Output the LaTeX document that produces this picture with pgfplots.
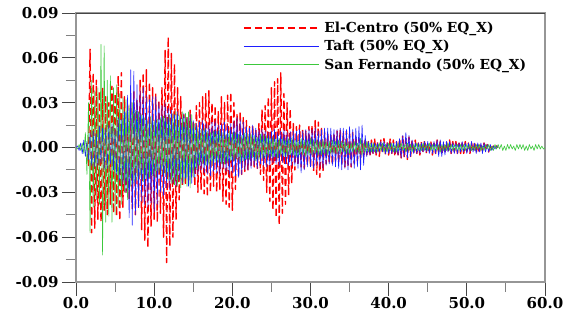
\documentclass[border=0pt]{standalone}
\usepackage{pgfplots}
\pgfplotsset{compat=1.18}
\usepackage{pgfplotstable}
\usepackage{fontspec}
\setmainfont{DejaVu Serif}
\definecolor{ecred}{RGB}{255,0,0}
\definecolor{taftblue}{RGB}{30,30,255}
\definecolor{sfgreen}{RGB}{60,200,60}
\definecolor{axgray}{RGB}{150,150,150}
\definecolor{tickdark}{RGB}{70,70,70}

% El-Centro, t = 1.4 s ... 54.0 s, dt = 0.2 s
\pgfplotstableread[row sep=\\]{y\\
0.003\\ -0.012\\ 0.066\\ -0.057\\ 0.050\\ -0.054\\ 0.045\\ -0.048\\ 0.038\\ -0.050\\
0.040\\ -0.042\\ 0.034\\ -0.045\\ 0.030\\ -0.038\\ 0.041\\ -0.044\\ 0.036\\ -0.046\\
0.048\\ -0.049\\ 0.050\\ -0.040\\ 0.034\\ -0.030\\ 0.028\\ -0.035\\ 0.030\\ -0.041\\
0.038\\ -0.045\\ 0.032\\ -0.040\\ 0.045\\ -0.055\\ 0.050\\ -0.062\\ 0.052\\ -0.067\\
0.044\\ -0.053\\ 0.040\\ -0.048\\ 0.036\\ -0.050\\ 0.032\\ -0.044\\ 0.040\\ -0.060\\
0.065\\ -0.077\\ 0.074\\ -0.066\\ 0.063\\ -0.060\\ 0.056\\ -0.048\\ 0.040\\ -0.035\\
0.034\\ -0.026\\ 0.022\\ -0.024\\ 0.020\\ -0.022\\ 0.025\\ -0.020\\ 0.018\\ -0.026\\
0.028\\ -0.030\\ 0.030\\ -0.028\\ 0.034\\ -0.031\\ 0.036\\ -0.033\\ 0.038\\ -0.030\\
0.030\\ -0.026\\ 0.028\\ -0.030\\ 0.024\\ -0.028\\ 0.034\\ -0.036\\ 0.030\\ -0.038\\
0.035\\ -0.040\\ 0.037\\ -0.042\\ 0.030\\ -0.028\\ 0.022\\ -0.020\\ 0.024\\ -0.018\\
0.020\\ -0.016\\ 0.018\\ -0.015\\ 0.014\\ -0.012\\ 0.015\\ -0.013\\ 0.012\\ -0.014\\
0.016\\ -0.018\\ 0.025\\ -0.022\\ 0.028\\ -0.030\\ 0.034\\ -0.036\\ 0.040\\ -0.042\\
0.044\\ -0.047\\ 0.046\\ -0.052\\ 0.050\\ -0.044\\ 0.036\\ -0.038\\ 0.030\\ -0.032\\
0.026\\ -0.024\\ 0.016\\ -0.015\\ 0.014\\ -0.012\\ 0.015\\ -0.013\\ 0.012\\ -0.014\\
0.011\\ -0.012\\ 0.014\\ -0.013\\ 0.015\\ -0.016\\ 0.018\\ -0.018\\ 0.017\\ -0.020\\
0.014\\ -0.016\\ 0.010\\ -0.011\\ 0.009\\ -0.010\\ 0.008\\ -0.012\\ 0.010\\ -0.009\\
0.011\\ -0.010\\ 0.012\\ -0.011\\ 0.010\\ -0.013\\ 0.011\\ -0.012\\ 0.009\\ -0.013\\
0.010\\ -0.011\\ 0.008\\ -0.009\\ 0.006\\ -0.007\\ 0.005\\ -0.006\\ 0.006\\ -0.005\\
0.004\\ -0.006\\ 0.005\\ -0.004\\ 0.006\\ -0.005\\ 0.004\\ -0.006\\ 0.005\\ -0.004\\
0.006\\ -0.005\\ 0.004\\ -0.005\\ 0.006\\ -0.004\\ 0.005\\ -0.006\\ 0.004\\ -0.005\\
0.006\\ -0.007\\ 0.008\\ -0.007\\ 0.006\\ -0.008\\ 0.007\\ -0.006\\ 0.005\\ -0.004\\
0.005\\ -0.004\\ 0.003\\ -0.005\\ 0.004\\ -0.003\\ 0.005\\ -0.004\\ 0.003\\ -0.004\\
0.004\\ -0.005\\ 0.003\\ -0.004\\ 0.005\\ -0.003\\ 0.004\\ -0.005\\ 0.003\\ -0.004\\
0.004\\ -0.003\\ 0.005\\ -0.004\\ 0.004\\ -0.003\\ 0.004\\ -0.004\\ 0.003\\ -0.004\\
0.003\\ -0.004\\ 0.004\\ -0.003\\ 0.003\\ -0.004\\ 0.003\\ -0.003\\ 0.004\\ -0.004\\
0.003\\ -0.004\\ 0.003\\ -0.002\\ 0.003\\ -0.002\\ 0.002\\ -0.003\\ 0.002\\ -0.001\\
0.001\\ -0.001\\ 0.001\\ 0.000\\
}\elcentro

% Taft, t = 0 ... 54.0 s, dt = 0.2 s
\pgfplotstableread[row sep=\\]{y\\
0.000\\ 0.001\\ -0.002\\ 0.003\\ -0.004\\ 0.005\\ -0.006\\ 0.004\\ -0.008\\ 0.010\\
-0.012\\ 0.011\\ -0.013\\ 0.009\\ -0.012\\ 0.014\\ -0.010\\ 0.013\\ -0.015\\ 0.012\\
-0.014\\ 0.015\\ -0.011\\ 0.016\\ -0.015\\ 0.013\\ -0.018\\ 0.020\\ -0.022\\ 0.019\\
-0.025\\ 0.024\\ -0.030\\ 0.035\\ -0.047\\ 0.052\\ -0.052\\ 0.051\\ -0.045\\ 0.042\\
-0.040\\ 0.038\\ -0.036\\ 0.040\\ -0.038\\ 0.035\\ -0.040\\ 0.032\\ -0.037\\ 0.034\\
-0.043\\ 0.034\\ -0.038\\ 0.030\\ -0.030\\ 0.028\\ -0.032\\ 0.030\\ -0.027\\ 0.026\\
-0.028\\ 0.025\\ -0.024\\ 0.022\\ -0.026\\ 0.024\\ -0.022\\ 0.020\\ -0.024\\ 0.023\\
-0.021\\ 0.020\\ -0.026\\ 0.022\\ -0.024\\ 0.018\\ -0.020\\ 0.016\\ -0.018\\ 0.017\\
-0.015\\ 0.018\\ -0.017\\ 0.016\\ -0.018\\ 0.015\\ -0.019\\ 0.017\\ -0.016\\ 0.018\\
-0.017\\ 0.015\\ -0.018\\ 0.016\\ -0.014\\ 0.017\\ -0.016\\ 0.015\\ -0.018\\ 0.016\\
-0.017\\ 0.018\\ -0.019\\ 0.020\\ -0.020\\ 0.019\\ -0.018\\ 0.017\\ -0.015\\ 0.014\\
-0.015\\ 0.013\\ -0.014\\ 0.015\\ -0.012\\ 0.013\\ -0.014\\ 0.012\\ -0.011\\ 0.012\\
-0.012\\ 0.011\\ -0.013\\ 0.010\\ -0.012\\ 0.011\\ -0.010\\ 0.012\\ -0.011\\ 0.010\\
-0.012\\ 0.011\\ -0.010\\ 0.012\\ -0.011\\ 0.010\\ -0.012\\ 0.011\\ -0.012\\ 0.011\\
-0.012\\ 0.011\\ -0.014\\ 0.012\\ -0.017\\ 0.011\\ -0.015\\ 0.012\\ -0.013\\ 0.012\\
-0.013\\ 0.012\\ -0.014\\ 0.013\\ -0.012\\ 0.011\\ -0.013\\ 0.012\\ -0.014\\ 0.013\\
-0.012\\ 0.013\\ -0.011\\ 0.013\\ -0.012\\ 0.012\\ -0.013\\ 0.012\\ -0.014\\ 0.013\\
-0.015\\ 0.013\\ -0.014\\ 0.012\\ -0.015\\ 0.014\\ -0.013\\ 0.012\\ -0.014\\ 0.013\\
-0.013\\ 0.014\\ -0.015\\ 0.015\\ -0.012\\ 0.008\\ -0.006\\ 0.004\\ -0.005\\ 0.003\\
-0.004\\ 0.003\\ -0.004\\ 0.003\\ -0.003\\ 0.004\\ -0.003\\ 0.004\\ -0.004\\ 0.003\\
-0.004\\ 0.003\\ -0.004\\ 0.003\\ -0.004\\ 0.004\\ -0.005\\ 0.006\\ -0.007\\ 0.008\\
-0.006\\ 0.010\\ -0.007\\ 0.008\\ -0.006\\ 0.005\\ -0.004\\ 0.003\\ -0.004\\ 0.003\\
-0.004\\ 0.003\\ -0.003\\ 0.004\\ -0.003\\ 0.004\\ -0.004\\ 0.003\\ -0.004\\ 0.004\\
-0.004\\ 0.005\\ -0.006\\ 0.005\\ -0.006\\ 0.004\\ -0.005\\ 0.004\\ -0.003\\ 0.004\\
-0.004\\ 0.003\\ -0.004\\ 0.003\\ -0.004\\ 0.003\\ -0.003\\ 0.004\\ -0.003\\ 0.003\\
-0.004\\ 0.003\\ -0.003\\ 0.004\\ -0.003\\ 0.003\\ -0.004\\ 0.003\\ -0.003\\ 0.003\\
-0.004\\ 0.003\\ -0.003\\ 0.002\\ -0.003\\ 0.002\\ -0.002\\ 0.001\\ -0.001\\ 0.001\\
0.000\\
}\taft

% San Fernando, t = 0 ... 60.0 s, dt = 0.2 s
\pgfplotstableread[row sep=\\]{y\\
0.000\\ -0.001\\ 0.002\\ -0.002\\ 0.003\\ -0.004\\ 0.010\\ -0.018\\ 0.030\\ -0.057\\
0.045\\ -0.040\\ 0.038\\ -0.035\\ 0.040\\ -0.038\\ 0.069\\ -0.072\\ 0.068\\ -0.050\\
0.045\\ -0.046\\ 0.048\\ -0.050\\ 0.040\\ -0.045\\ 0.042\\ -0.040\\ 0.036\\ -0.038\\
0.034\\ -0.030\\ 0.032\\ -0.035\\ 0.028\\ -0.026\\ 0.030\\ -0.024\\ 0.025\\ -0.022\\
0.024\\ -0.020\\ 0.022\\ -0.023\\ 0.020\\ -0.021\\ 0.018\\ -0.020\\ 0.021\\ -0.019\\
0.018\\ -0.020\\ 0.019\\ -0.017\\ 0.020\\ -0.018\\ 0.021\\ -0.019\\ 0.020\\ -0.022\\
0.022\\ -0.024\\ 0.023\\ -0.025\\ 0.024\\ -0.026\\ 0.022\\ -0.027\\ 0.024\\ -0.025\\
0.023\\ -0.026\\ 0.024\\ -0.027\\ 0.022\\ -0.020\\ 0.016\\ -0.015\\ 0.013\\ -0.012\\
0.012\\ -0.011\\ 0.013\\ -0.012\\ 0.011\\ -0.012\\ 0.010\\ -0.012\\ 0.011\\ -0.010\\
0.011\\ -0.010\\ 0.012\\ -0.011\\ 0.010\\ -0.011\\ 0.009\\ -0.010\\ 0.011\\ -0.009\\
0.010\\ -0.009\\ 0.010\\ -0.008\\ 0.009\\ -0.010\\ 0.008\\ -0.009\\ 0.010\\ -0.008\\
0.009\\ -0.008\\ 0.009\\ -0.007\\ 0.008\\ -0.009\\ 0.007\\ -0.008\\ 0.009\\ -0.007\\
0.008\\ -0.007\\ 0.008\\ -0.006\\ 0.007\\ -0.006\\ 0.007\\ -0.006\\ 0.006\\ -0.007\\
0.006\\ -0.005\\ 0.006\\ -0.006\\ 0.005\\ -0.006\\ 0.006\\ -0.005\\ 0.006\\ -0.005\\
0.005\\ -0.006\\ 0.005\\ -0.005\\ 0.006\\ -0.005\\ 0.005\\ -0.006\\ 0.005\\ -0.005\\
0.006\\ -0.005\\ 0.005\\ -0.004\\ 0.005\\ -0.005\\ 0.004\\ -0.005\\ 0.005\\ -0.004\\
0.004\\ -0.005\\ 0.004\\ -0.004\\ 0.005\\ -0.004\\ 0.004\\ -0.004\\ 0.005\\ -0.004\\
0.004\\ -0.003\\ 0.004\\ -0.004\\ 0.003\\ -0.004\\ 0.003\\ -0.003\\ 0.004\\ -0.003\\
0.003\\ -0.004\\ 0.006\\ -0.005\\ 0.003\\ -0.003\\ 0.004\\ -0.003\\ 0.003\\ -0.003\\
0.003\\ -0.003\\ 0.002\\ -0.003\\ 0.003\\ -0.002\\ 0.003\\ -0.003\\ 0.002\\ -0.003\\
0.003\\ -0.002\\ 0.003\\ -0.003\\ 0.002\\ -0.003\\ 0.003\\ -0.002\\ 0.003\\ -0.002\\
0.002\\ -0.003\\ 0.003\\ -0.002\\ 0.002\\ -0.003\\ 0.002\\ -0.002\\ 0.003\\ -0.002\\
0.002\\ -0.002\\ 0.003\\ -0.002\\ 0.002\\ -0.002\\ 0.003\\ -0.002\\ 0.002\\ -0.002\\
0.002\\ -0.002\\ 0.002\\ -0.003\\ 0.002\\ -0.002\\ 0.002\\ -0.002\\ 0.003\\ -0.002\\
0.002\\ -0.002\\ 0.002\\ -0.002\\ 0.002\\ -0.002\\ 0.002\\ -0.002\\ 0.002\\ -0.002\\
0.002\\ -0.001\\ 0.002\\ -0.002\\ 0.001\\ -0.002\\ 0.002\\ -0.001\\ 0.002\\ -0.002\\
0.001\\ -0.002\\ 0.002\\ -0.001\\ 0.002\\ -0.002\\ 0.001\\ -0.002\\ 0.002\\ -0.001\\
0.002\\ -0.001\\ 0.002\\ -0.002\\ 0.001\\ -0.002\\ 0.002\\ -0.001\\ 0.002\\ -0.001\\
0.001\\ -0.002\\ 0.002\\ -0.001\\ 0.002\\ -0.001\\ 0.002\\ -0.002\\ 0.001\\ -0.002\\
0.002\\ -0.001\\ 0.001\\ -0.002\\ 0.002\\ -0.001\\ 0.002\\ -0.001\\ 0.001\\ -0.001\\
0.000\\
}\sanfernando

\begin{document}
\begin{tikzpicture}
\path[use as bounding box] (-76pt,-39pt) rectangle (490pt,282pt);
\begin{axis}[
  at={(0pt,0pt)}, anchor=south west,
  scale only axis, width=469pt, height=269pt,
  xmin=0, xmax=60, ymin=-0.09, ymax=0.09,
  scaled y ticks=false, scaled x ticks=false,
  xtick={0,10,20,30,40,50,60},
  xticklabels={0.0,10.0,20.0,30.0,40.0,50.0,60.0},
  ytick={-0.09,-0.06,-0.03,0,0.03,0.06,0.09},
  yticklabels={-0.09,-0.06,-0.03,0.00,0.03,0.06,0.09},
  minor xtick={5,15,25,35,45,55},
  minor ytick={-0.075,-0.045,-0.015,0.015,0.045,0.075},
  tick align=outside, tick pos=left,
  major tick length=14pt, minor tick length=10pt,
  major tick style={tickdark, line width=0.9pt},
  minor tick style={gray, line width=0.9pt},
  axis line style={axgray, line width=1.6pt},
  ticklabel style={font=\bfseries\fontsize{15}{15}\selectfont, text=black},
  xticklabel style={yshift=2pt},
  legend style={draw=none, fill=none, at={(rel axis cs:0.356,0.975)}, anchor=north west,
    font=\bfseries\fontsize{13.8}{13.8}\selectfont, row sep=2.4pt, inner sep=0pt,
    cells={anchor=west}, /tikz/every even column/.append style={column sep=0pt}},
  legend cell align=left,
  legend image code/.code={\draw[#1] (0pt,0pt) -- (75pt,0pt) (78pt,0pt);},
  clip=true,
]
\addlegendimage{color=ecred, line width=1.2pt, dash pattern=on 7pt off 4pt}
\addlegendentry{El-Centro (50\% EQ\_X)}
\addlegendimage{color=taftblue, line width=0.8pt}
\addlegendentry{Taft (50\% EQ\_X)}
\addlegendimage{color=sfgreen, line width=0.8pt}
\addlegendentry{San Fernando (50\% EQ\_X)}
\addplot[forget plot, color=ecred, line width=1.4pt, dash pattern=on 7pt off 4pt, line join=round]
  table[x expr=\coordindex*0.2+1.4, y=y] {\elcentro};
\addplot[forget plot, color=taftblue, line width=0.6pt, line join=round]
  table[x expr=\coordindex*0.2, y=y] {\taft};
\addplot[forget plot, color=sfgreen, line width=0.6pt, line join=round]
  table[x expr=\coordindex*0.2, y=y] {\sanfernando};
\draw[tickdark, line width=0.9pt] (rel axis cs:0,1) -- (rel axis cs:1,1);
\end{axis}
\end{tikzpicture}
\end{document}
